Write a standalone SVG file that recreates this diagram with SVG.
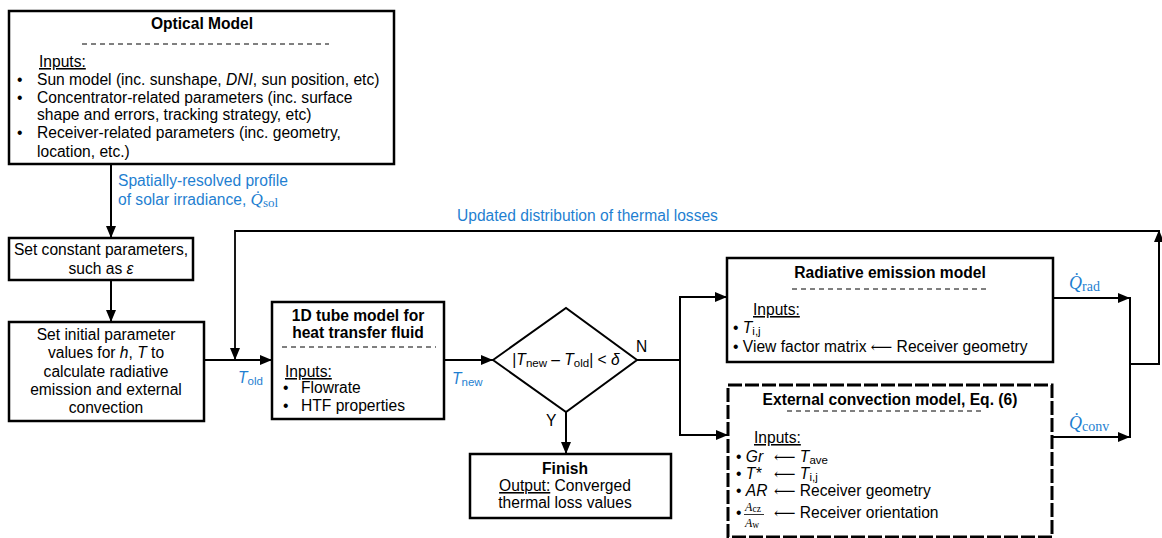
<svg xmlns="http://www.w3.org/2000/svg" width="1162" height="538" viewBox="0 0 1162 538">
<defs>
<style>
.box{fill:#fff;stroke:#000;stroke-width:2.5}
.t{font-family:"Liberation Sans",Arial,sans-serif;font-size:15.6px;fill:#000}
.b{font-weight:bold}
.c{text-anchor:middle}
.blue{fill:#1f7fd1}
.m{font-family:"Liberation Serif","Times New Roman",serif}
.ar{font-family:"DejaVu Serif","Liberation Serif",serif;font-size:15px}
.dash{stroke:#000;stroke-width:1;stroke-dasharray:5,4;fill:none}
.ln{stroke:#000;stroke-width:2;fill:none}
.u{text-decoration:underline}
</style>
<marker id="ah" viewBox="0 0 12 10" markerUnits="userSpaceOnUse" markerWidth="12" markerHeight="10" refX="12" refY="5" orient="auto">
<path d="M0,0 L12,5 L0,10 z" fill="#000"/>
</marker>
</defs>
<rect width="1162" height="538" fill="#fff"/>

<g id="connectors">
<path class="ln" d="M111,164 V238" marker-end="url(#ah)"/>
<path class="ln" d="M111,280 V322" marker-end="url(#ah)"/>
<path class="ln" d="M204,360 H272" marker-end="url(#ah)"/>
<path class="ln" d="M1130,364 H1159 V230" marker-end="url(#ah)"/>
<path class="ln" style="stroke-width:1.8" d="M1159,231 H235 V360" marker-end="url(#ah)"/>
<path class="ln" d="M444,360 H493" marker-end="url(#ah)"/>
<path class="ln" d="M637,360 H680"/>
<path class="ln" d="M680,297 V435"/>
<path class="ln" d="M679,297 H727" marker-end="url(#ah)"/>
<path class="ln" d="M679,435 H728" marker-end="url(#ah)"/>
<path class="ln" d="M566,412 V454" marker-end="url(#ah)"/>
<path class="ln" d="M1053,298 H1130" marker-end="url(#ah)"/>
<path class="ln" d="M1053,437 H1130" marker-end="url(#ah)"/>
<path class="ln" d="M1130,297 V438"/>
<text class="t blue" x="118" y="186">Spatially-resolved profile</text>
<text class="t blue" x="118" y="205">of solar irradiance, <tspan class="m" font-style="italic" font-size="17">Q̇</tspan><tspan class="m" font-size="13" dy="2">sol</tspan></text>
<text class="t blue" x="457" y="221">Updated distribution of thermal losses</text>
<text class="t blue" x="238" y="383"><tspan font-style="italic">T</tspan><tspan font-size="11.5" dy="2">old</tspan></text>
<text class="t blue" x="452" y="384"><tspan font-style="italic">T</tspan><tspan font-size="11.5" dy="2">new</tspan></text>
<text class="t" x="636" y="352">N</text>
<text class="t" x="546" y="426">Y</text>
<text class="blue m" x="1069" y="289" font-size="18"><tspan font-style="italic">Q̇</tspan><tspan font-size="14" dy="2">rad</tspan></text>
<text class="blue m" x="1069" y="429" font-size="18"><tspan font-style="italic">Q̇</tspan><tspan font-size="14" dy="2">conv</tspan></text>
</g>

<g id="optical-model">
<rect class="box" x="9" y="11" width="385" height="153"/>
<text class="t b c" x="202" y="29">Optical Model</text>
<line class="dash" x1="82" y1="44" x2="329" y2="44"/>
<text class="t u" x="39" y="67">Inputs:</text>
<text class="t" x="17" y="85">•</text>
<text class="t" x="37" y="85">Sun model (inc. sunshape, <tspan font-style="italic">DNI</tspan>, sun position, etc)</text>
<text class="t" x="17" y="102.5">•</text>
<text class="t" x="37" y="102.5">Concentrator-related parameters (inc. surface</text>
<text class="t" x="37" y="120">shape and errors, tracking strategy, etc)</text>
<text class="t" x="17" y="138">•</text>
<text class="t" x="37" y="138">Receiver-related parameters (inc. geometry,</text>
<text class="t" x="37" y="157">location, etc.)</text>
</g>

<g id="set-constant">
<rect class="box" x="9" y="238" width="184" height="42"/>
<text class="t c" x="101" y="255">Set constant parameters,</text>
<text class="t c" x="101" y="274">such as <tspan font-style="italic">ε</tspan></text>
</g>

<g id="set-initial">
<rect class="box" x="9" y="322" width="195" height="99"/>
<text class="t c" x="106" y="340">Set initial parameter</text>
<text class="t c" x="106" y="358">values for <tspan font-style="italic">h</tspan>, <tspan font-style="italic">T</tspan> to</text>
<text class="t c" x="106" y="377">calculate radiative</text>
<text class="t c" x="106" y="395">emission and external</text>
<text class="t c" x="106" y="413">convection</text>
</g>

<g id="tube-model">
<rect class="box" x="272" y="302" width="172" height="117"/>
<text class="t b c" x="358" y="321">1D tube model for</text>
<text class="t b c" x="358" y="338">heat transfer fluid</text>
<line class="dash" x1="282" y1="347" x2="436" y2="347"/>
<text class="t u" x="285" y="377">Inputs:</text>
<text class="t" x="283" y="393">•</text>
<text class="t" x="301" y="393">Flowrate</text>
<text class="t" x="283" y="411">•</text>
<text class="t" x="301" y="411">HTF properties</text>
</g>

<g id="convergence-check">
<polygon points="493,360 566,308 637,360 566,412" fill="#fff" stroke="#000" stroke-width="2"/>
<text class="t c" x="566" y="365">|<tspan font-style="italic">T</tspan><tspan font-size="11.5" dy="2">new</tspan><tspan dy="-2"> – </tspan><tspan font-style="italic">T</tspan><tspan font-size="11.5" dy="2">old</tspan><tspan dy="-2">| &lt; </tspan><tspan font-style="italic">δ</tspan></text>
</g>

<g id="finish">
<rect class="box" x="470" y="454" width="201" height="64"/>
<text class="t b c" x="565" y="474">Finish</text>
<text class="t c" x="565" y="491"><tspan class="u">Output:</tspan> Converged</text>
<text class="t c" x="565" y="508">thermal loss values</text>
</g>

<g id="radiative-model">
<rect class="box" x="727" y="258" width="326" height="104"/>
<text class="t b c" x="890" y="278">Radiative emission model</text>
<line class="dash" x1="792" y1="289" x2="988" y2="289"/>
<text class="t u" x="753" y="315">Inputs:</text>
<text class="t" x="733" y="333">• <tspan font-style="italic">T</tspan><tspan font-size="11.5" dy="2">i,j</tspan></text>
<text class="t" x="733" y="352">• View factor matrix <tspan class="ar">⟵</tspan> Receiver geometry</text>
</g>

<g id="convection-model">
<rect x="728" y="385" width="324" height="152" fill="#fff" stroke="#000" stroke-width="3" stroke-dasharray="14,3"/>
<text class="t b c" x="890" y="405">External convection model, Eq. (6)</text>
<line class="dash" x1="787" y1="411" x2="982" y2="411"/>
<text class="t u" x="754" y="443">Inputs:</text>
<text class="t" x="736" y="462">• <tspan font-style="italic">Gr</tspan></text>
<text class="t" x="774" y="462"><tspan class="ar">⟵</tspan> <tspan font-style="italic">T</tspan><tspan font-size="11.5" dy="2">ave</tspan></text>
<text class="t" x="736" y="479">• <tspan font-style="italic">T*</tspan></text>
<text class="t" x="774" y="479"><tspan class="ar">⟵</tspan> <tspan font-style="italic">T</tspan><tspan font-size="11.5" dy="2">i,j</tspan></text>
<text class="t" x="736" y="496">• <tspan font-style="italic">AR</tspan></text>
<text class="t" x="774" y="496"><tspan class="ar">⟵</tspan> Receiver geometry</text>
<text class="t" x="736" y="518">•</text>
<text class="m" x="753" y="511" font-size="12" font-style="italic" text-anchor="middle">A<tspan font-size="9.5" font-style="normal" dy="1">cz</tspan></text>
<line x1="744" y1="514.5" x2="764" y2="514.5" stroke="#000" stroke-width="0.8"/>
<text class="m" x="752" y="527" font-size="12" font-style="italic" text-anchor="middle">A<tspan font-size="9.5" font-style="normal" dy="1">w</tspan></text>
<text class="t" x="774" y="518"><tspan class="ar">⟵</tspan> Receiver orientation</text>
</g>
</svg>
